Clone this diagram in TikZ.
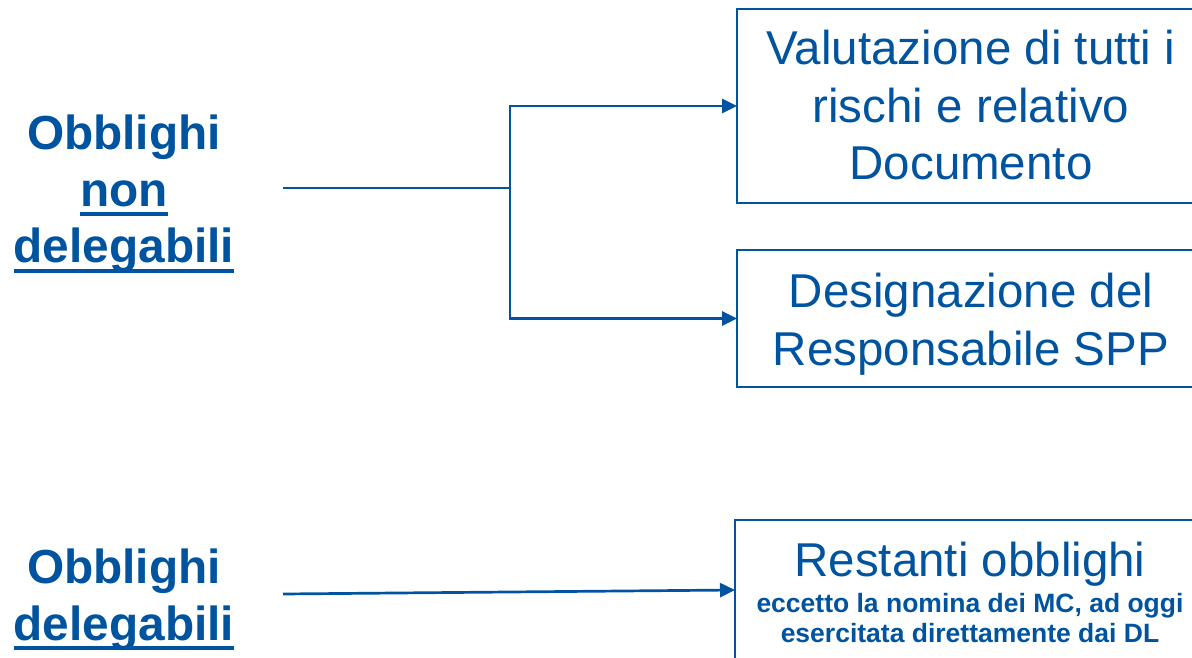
\documentclass[tikz,border=0pt]{standalone}
\usepackage{fontspec}
\setmainfont{Liberation Sans}
\usetikzlibrary{arrows.meta}
\definecolor{dblue}{RGB}{0,84,159}
\newcommand\ulx[1]{\leavevmode\setbox0=\hbox{#1}\rlap{\rule[-10pt]{\wd0}{4pt}}\box0}
\begin{document}
\begin{tikzpicture}[x=1pt,y=-1pt,
  box/.style={draw=dblue, line width=2.2pt, inner sep=0pt, outer sep=0pt, anchor=north west, text=dblue},
  side/.style={inner sep=0pt, anchor=base, text=dblue},
  conn/.style={draw=dblue, line width=2.7pt},
  arr/.style={conn, -{Triangle[length=15pt,width=14pt]}}]
\useasboundingbox (0,0) rectangle (1192,658);
% left labels
\node[side] (nd) at (124,150) {\parbox[t]{260pt}{\fontsize{47.8}{56.5}\selectfont\bfseries\centering Obblighi\\ \ulx{non}\\ \ulx{delegabili}\par}};
\node[side] (dl) at (124,583) {\parbox[t]{260pt}{\fontsize{47.8}{57}\selectfont\bfseries\centering Obblighi\\ \ulx{delegabili}\par}};
% right boxes
\node[box] (b1) at (737,9) {\parbox[t][194pt][t]{468pt}{\centering\fontsize{47.5}{57.5}\selectfont\rule{0pt}{56pt}Valutazione di tutti i\\ rischi e relativo\\ Documento\par}};
\node[box] (b2) at (737,250) {\parbox[t][137pt][t]{468pt}{\centering\fontsize{47.5}{58}\selectfont\rule{0pt}{57pt}Designazione del\\ Responsabile SPP\par}};
\node[box] (b3) at (735,520) {\parbox[t][140pt][t]{470pt}{\centering\fontsize{47.5}{56.5}\selectfont\rule{0pt}{56pt}Restanti obblighi\par\vspace{6pt}\fontsize{26.5}{30}\selectfont\bfseries eccetto la nomina dei MC, ad oggi\\ esercitata direttamente dai DL\par}};
% connectors
\coordinate (s1) at (283,188);
\coordinate (j1) at (510,188);
\coordinate (s2) at (283,594);
\draw[conn] (s1) -- (j1);
\draw[arr] (j1) |- (b1.west);
\draw[arr] (j1) |- (b2.west);
\draw[arr] (s2) -- (b3.west);
\end{tikzpicture}
\end{document}
